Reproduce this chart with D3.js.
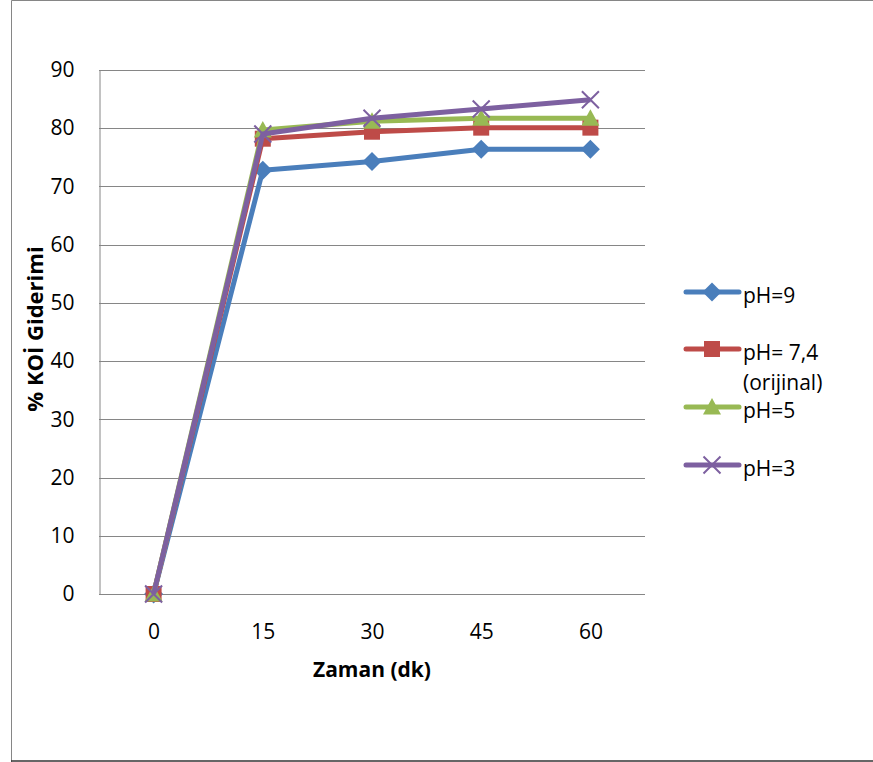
<!DOCTYPE html>
<html>
<head>
<meta charset="utf-8">
<script src="https://cdn.jsdelivr.net/npm/d3@7"></script>
<style>
  body { margin: 0; background: #fff; }
  svg { display: block; font-family: "Open Sans", "Noto Sans", sans-serif; }
</style>
</head>
<body>
<svg id="chart" width="873" height="762"></svg>
<script>
// Time points (minutes)
const times = ["0", "15", "30", "45", "60"];
// COD removal (%) per pH
const ph9 = [0, 72.8, 74.3, 76.4, 76.4];
const ph74 = [0, 78.2, 79.4, 80.1, 80.1];
const ph5 = [0, 79.7, 81.2, 81.7, 81.7];
const ph3 = [0, 79.0, 81.7, 83.3, 84.9];
const yTicks = [0, 10, 20, 30, 40, 50, 60, 70, 80, 90];

const seriesNames = ["pH=9", "pH= 7,4\n(orijinal)", "pH=5", "pH=3"];
const seriesValues = [ph9, ph74, ph5, ph3];
const colors = ["#4A7EBB", "#BE4B48", "#98B954", "#7D60A0"];
const shapes = ["diamond", "square", "triangle", "cross"];

const svg = d3.select("#chart");
const grey = "#868686";
const fontSize = 21;

// outer frame (top, left, bottom edges)
svg.append("path").attr("d", "M11.5,762V0.5H873").attr("fill", "none").attr("stroke", grey);
svg.append("line").attr("x1", 11).attr("x2", 873).attr("y1", 761).attr("y2", 761)
  .attr("stroke", "#333").attr("stroke-width", 1.5);

const plotLeft = 99, plotRight = 645, plotTop = 70, plotBottom = 594;
const x = d3.scalePoint().domain(times).range([plotLeft, plotRight]).padding(0.5);
const y = d3.scaleLinear().domain([0, 90]).range([plotBottom, plotTop]);

// horizontal gridlines
svg.append("g").selectAll("line").data(yTicks.slice(1)).join("line")
  .attr("x1", plotLeft).attr("x2", plotRight)
  .attr("y1", d => Math.round(y(d)) + 0.5).attr("y2", d => Math.round(y(d)) + 0.5)
  .attr("stroke", grey).attr("stroke-width", 1);

// axes
const yAxis = svg.append("g").attr("transform", `translate(${plotLeft + 0.5},0)`)
  .call(d3.axisLeft(y).tickValues(yTicks).tickSize(0).tickPadding(25));
const xAxis = svg.append("g").attr("transform", `translate(0,${plotBottom + 0.5})`)
  .call(d3.axisBottom(x).tickSize(0).tickPadding(30));
[yAxis, xAxis].forEach(a => {
  a.select(".domain").attr("stroke", grey);
  a.selectAll("text").attr("font-size", fontSize).attr("fill", "#000")
    .attr("font-family", "'Open Sans', sans-serif");
});
xAxis.select(".domain").attr("d", `M${plotLeft},0H${plotRight}`);

// axis titles
svg.append("text").attr("x", 372).attr("y", 677).attr("text-anchor", "middle")
  .attr("font-size", fontSize).attr("font-weight", "bold").text("Zaman (dk)");
svg.append("text").attr("transform", "translate(43,329) rotate(-90)").attr("text-anchor", "middle")
  .attr("font-size", 22).attr("font-weight", "bold").text("% KOİ Giderimi");

function drawMarker(g, shape, color, cx, cy) {
  if (shape === "diamond") {
    g.append("path").attr("d", `M${cx},${cy - 9.5}L${cx + 9.5},${cy}L${cx},${cy + 9.5}L${cx - 9.5},${cy}Z`).attr("fill", color);
  } else if (shape === "square") {
    g.append("rect").attr("x", cx - 8).attr("y", cy - 8).attr("width", 16).attr("height", 16).attr("fill", color);
  } else if (shape === "triangle") {
    g.append("path").attr("d", `M${cx},${cy - 9}L${cx + 9},${cy + 7.5}L${cx - 9},${cy + 7.5}Z`).attr("fill", color);
  } else {
    g.append("path").attr("d", `M${cx - 8.5},${cy - 8.5}L${cx + 8.5},${cy + 8.5}M${cx + 8.5},${cy - 8.5}L${cx - 8.5},${cy + 8.5}`)
      .attr("stroke", color).attr("stroke-width", 2);
  }
}

const line = d3.line().x((d, i) => x(times[i])).y(d => y(d));
seriesValues.forEach((vals, s) => {
  const g = svg.append("g");
  g.append("path").datum(vals).attr("d", line).attr("fill", "none")
    .attr("stroke", colors[s]).attr("stroke-width", 5).attr("stroke-linejoin", "round");
  vals.forEach((v, i) => drawMarker(g, shapes[s], colors[s], x(times[i]), y(v)));
});

// legend
const legendY = [292, 349, 407, 465];
seriesNames.forEach((name, s) => {
  const g = svg.append("g");
  const ly = legendY[s];
  g.append("line").attr("x1", 686).attr("x2", 739).attr("y1", ly).attr("y2", ly)
    .attr("stroke", colors[s]).attr("stroke-width", 5).attr("stroke-linecap", "round");
  drawMarker(g, shapes[s], colors[s], 712, ly);
  name.split("\n").forEach((t, k) => {
    g.append("text").attr("x", 743).attr("y", ly + 11 + k * 30).attr("font-size", fontSize).text(t);
  });
});
</script>
</body>
</html>
